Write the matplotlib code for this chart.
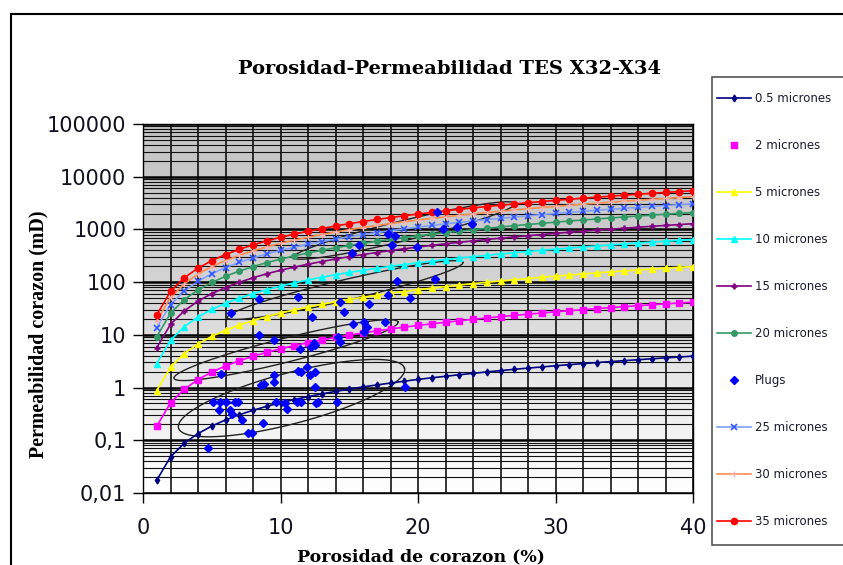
import numpy as np
import matplotlib.pyplot as plt
from matplotlib.lines import Line2D
from matplotlib.patches import Rectangle
from matplotlib.colors import LinearSegmentedColormap
from matplotlib.ticker import MultipleLocator, LogLocator, NullFormatter

# porosity (%) of the pore-throat curves
phi = list(range(1, 41))

k_05 = [0.0175, 0.0484, 0.0879, 0.134, 0.186, 0.243, 0.305, 0.371, 0.441, 0.515,
        0.593, 0.673, 0.758, 0.845, 0.935, 1.03, 1.12, 1.22, 1.32, 1.43,
        1.53, 1.64, 1.75, 1.86, 1.98, 2.10, 2.22, 2.34, 2.46, 2.59,
        2.72, 2.85, 2.98, 3.11, 3.24, 3.38, 3.52, 3.66, 3.80, 3.95]
k_2 = [0.185, 0.512, 0.929, 1.42, 1.97, 2.57, 3.23, 3.92, 4.66, 5.44,
       6.26, 7.12, 8.00, 8.93, 9.88, 10.9, 11.9, 12.9, 14.0, 15.1,
       16.2, 17.3, 18.5, 19.7, 20.9, 22.2, 23.4, 24.7, 26.0, 27.4,
       28.7, 30.1, 31.5, 32.9, 34.3, 35.7, 37.2, 38.7, 40.2, 41.7]
k_5 = [0.879, 2.43, 4.41, 6.73, 9.35, 12.2, 15.3, 18.6, 22.2, 25.9,
       29.8, 33.8, 38.0, 42.4, 47.0, 51.6, 56.4, 61.4, 66.4, 71.6,
       77.0, 82.4, 88.0, 93.6, 99.4, 105, 111, 117, 124, 130,
       136, 143, 150, 156, 163, 170, 177, 184, 191, 198]
k_10 = [2.86, 7.91, 14.3, 21.9, 30.4, 39.7, 49.8, 60.6, 72.0, 84.1,
        96.7, 110, 124, 138, 153, 168, 183, 199, 216, 233,
        250, 268, 286, 304, 323, 342, 362, 382, 402, 422,
        443, 464, 486, 508, 530, 552, 575, 598, 621, 644]
k_15 = [5.69, 15.8, 28.6, 43.6, 60.6, 79.1, 99.3, 121, 144, 168,
        193, 219, 246, 275, 304, 334, 365, 397, 430, 464,
        498, 534, 570, 606, 644, 682, 720, 760, 801, 842,
        883, 925, 968, 1011, 1055, 1100, 1145, 1191, 1237, 1284]
k_20 = [9.28, 25.7, 46.6, 71.1, 98.8, 129, 162, 197, 234, 273,
        314, 357, 402, 448, 496, 545, 596, 648, 702, 757,
        813, 870, 929, 989, 1050, 1112, 1175, 1240, 1306, 1373,
        1441, 1510, 1579, 1650, 1721, 1795, 1868, 1943, 2018, 2094]
k_25 = [13.6, 37.6, 68.2, 104, 144, 189, 237, 288, 342, 400,
        460, 522, 587, 655, 725, 797, 871, 947, 1026, 1106,
        1188, 1272, 1358, 1445, 1535, 1626, 1718, 1813, 1909, 2007,
        2106, 2206, 2308, 2411, 2516, 2623, 2730, 2840, 2950, 3061]
k_30 = [18.5, 51.2, 92.9, 142, 197, 257, 323, 392, 467, 545,
        627, 712, 801, 893, 988, 1087, 1188, 1292, 1398, 1508,
        1620, 1735, 1852, 1970, 2092, 2216, 2342, 2472, 2603, 2736,
        2871, 3008, 3147, 3287, 3430, 3576, 3722, 3872, 4022, 4174]
k_35 = [24.0, 66.5, 121, 184, 256, 334, 419, 510, 606, 708,
        814, 925, 1041, 1161, 1284, 1412, 1544, 1678, 1817, 1960,
        2105, 2254, 2406, 2560, 2719, 2880, 3043, 3212, 3382, 3556,
        3731, 3909, 4089, 4272, 4457, 4647, 4837, 5032, 5226, 5423]

# core plug measurements
plug_phi = [15.2, 15.7, 17.8, 18.3, 18.1, 19.9, 21.4, 21.8, 22.8, 23.9,
            6.4, 8.4, 11.3, 12.3, 14.3, 14.6, 16.4, 17.8, 18.5, 19.4, 21.2,
            8.4, 9.5, 11.4, 12.2, 12.4, 14.2, 14.3, 15.3, 16.1, 16.3, 17.6, 16.1, 12.5,
            5.7, 9.5, 9.5, 8.6, 8.8, 11.3, 11.5, 11.9, 12.15, 12.5, 12.5, 19.05,
            5.1, 5.6, 6.0, 6.7, 6.9, 5.5, 6.3, 6.45, 7.2, 8.7, 7.65, 7.9, 4.75,
            9.7, 10.3, 10.45, 11.2, 11.5, 12.75, 14.1, 12.6]
plug_k = [350, 500, 820, 740, 500, 460, 2100, 1020, 1100, 1290,
          26, 48, 52, 22, 42, 27, 38, 56, 105, 50, 117,
          9.8, 7.9, 5.3, 6.0, 7.0, 9.2, 7.2, 16, 17.5, 14, 17.5, 11.5, 6.4,
          1.8, 1.7, 1.3, 1.1, 1.15, 2.1, 2.0, 2.45, 1.7, 2.0, 1.03, 1.03,
          0.54, 0.54, 0.54, 0.54, 0.54, 0.37, 0.37, 0.32, 0.24, 0.21, 0.135, 0.14, 0.072,
          0.54, 0.50, 0.40, 0.54, 0.54, 0.54, 0.54, 0.50]

y_ticks = [0.01, 0.1, 1, 10, 100, 1000, 10000, 100000]
y_tick_labels = ['0,01', '0,1', '1', '10', '100', '1000', '10000', '100000']
x_ticks = [0, 10, 20, 30, 40]

W, H = 843, 565
fig = plt.figure(figsize=(W / 100, H / 100), dpi=100)
fig.patch.set_facecolor('white')
fig.add_artist(Rectangle((11 / W, -0.1), 1.2, 1 - 14 / H + 0.1, transform=fig.transFigure,
                         fill=False, edgecolor='black', lw=1.5))

ax = fig.add_axes([143 / W, 1 - 493 / H, 550 / W, 369 / H])
ax.set_yscale('log')
ax.set_xlim(0, 40)
ax.set_ylim(0.01, 100000)

# grey fading to white toward the bottom
fade = LinearSegmentedColormap.from_list('fade', ['#ffffff', '#e6e6e6', '#cdcdcd', '#c4c4c4'])
grad = np.linspace(0, 1, 256).reshape(-1, 1)
ax.imshow(grad, extent=[0, 1, 0, 1], transform=ax.transAxes, aspect='auto',
          cmap=fade, origin='lower', zorder=0)

ax.xaxis.set_major_locator(MultipleLocator(10))
ax.xaxis.set_minor_locator(MultipleLocator(2))
ax.yaxis.set_minor_locator(LogLocator(base=10, subs=np.arange(2, 10), numticks=20))
ax.yaxis.set_minor_formatter(NullFormatter())
ax.set_axisbelow(True)
ax.grid(True, axis='x', which='both', color='black', lw=1.1)
ax.grid(True, axis='y', which='major', color='black', lw=1.8)
ax.grid(True, axis='y', which='minor', color='#111111', lw=0.8)

ax.set_xticks(x_ticks)
ax.set_yticks(y_ticks)
ax.set_yticklabels(y_tick_labels)
ax.tick_params(which='major', direction='out', length=7, width=1,
               labelsize=15, labelcolor='#111122')
ax.tick_params(axis='y', pad=5)
ax.tick_params(axis='x', pad=11)
ax.tick_params(which='minor', length=0)
for s in ax.spines.values():
    s.set_color('black')
    s.set_linewidth(1)

# envelopes around the plug clusters, drawn in screen-proportional space
kx = (369 / 7) / (550 / 40)
envelopes = [(10.8, -0.20, 8.5, 1.85, 14.8),
             (10.4, 0.71, 8.4, 0.87, 14.1),
             (14.7, 1.85, 8.8, 0.75, 13.2),
             (19.0, 2.98, 8.3, 0.73, 13.7)]
t = np.linspace(0, 2 * np.pi, 200)
for cx, cl, a, b, ang in envelopes:
    th = np.radians(ang)
    ex = cx + a * np.cos(t) * np.cos(th) - b * np.sin(t) * np.sin(th)
    ev = cl * kx + a * np.cos(t) * np.sin(th) + b * np.sin(t) * np.cos(th)
    ax.plot(ex, 10 ** (ev / kx), color='#222222', lw=1.0, zorder=3)

l05, = ax.plot(phi, k_05, color='#000080', lw=1.2, marker='d', ms=3.5, zorder=4)
ax.plot(phi, k_2, color='#ff00ff', lw=1.2, marker='s', ms=5, zorder=4)
l5, = ax.plot(phi, k_5, color='#ffff00', lw=1.2, marker='^', ms=5, zorder=4)
l10, = ax.plot(phi, k_10, color='#00ffff', lw=1.2, marker='^', ms=5, zorder=4)
l15, = ax.plot(phi, k_15, color='#800080', lw=1.2, marker='+', ms=5, mew=1.8, zorder=4)
l20, = ax.plot(phi, k_20, color='#339966', lw=1.2, marker='o', ms=4, zorder=4)
lpl, = ax.plot(plug_phi, plug_k, color='#0000ff', ls='none', marker='D', ms=4.5, zorder=5)
l25, = ax.plot(phi, k_25, color='#7fa0ff', lw=1.2, marker='x', ms=4.5, mew=1.2,
               mec='#3355ff', zorder=4)
l30, = ax.plot(phi, k_30, color='#ff8c50', lw=1.2, marker='+', ms=4, mew=1,
               mec='#ffb0b0', zorder=4)
l35, = ax.plot(phi, k_35, color='#ff0000', lw=1.2, marker='o', ms=4.5, zorder=4)
h2 = Line2D([], [], color='#ff00ff', ls='none', marker='s', ms=5)

# legend box runs off the right edge
fig.add_artist(Rectangle((712 / W, 1 - 545 / H), 150 / W, 468 / H, transform=fig.transFigure,
                         facecolor='white', edgecolor='#555555', lw=1.2, zorder=2))

handles = [l05, h2, l5, l10, l15, l20, lpl, l25, l30, l35]
labels = ['0.5 micrones', '2 micrones', '5 micrones', '10 micrones', '15 micrones',
          '20 micrones', 'Plugs', '25 micrones', '30 micrones', '35 micrones']
leg = fig.legend(handles, labels, loc='upper left', bbox_to_anchor=(717 / W, 1 - 92 / H),
                 frameon=False, labelspacing=2.88, handlelength=2.9, handletextpad=0.35,
                 borderpad=0, borderaxespad=0, prop={'family': 'DejaVu Sans', 'size': 8.5})
leg.set_zorder(3)
for txt in leg.get_texts():
    txt.set_color('#1a1a33')

fig.text(450 / W, 1 - 69 / H, 'Porosidad-Permeabilidad TES X32-X34', ha='center', va='center',
         family='DejaVu Serif', weight='bold', size=14)
fig.text(421 / W, 1 - 557 / H, 'Porosidad de corazon (%)', ha='center', va='center',
         family='DejaVu Serif', weight='bold', size=12.5)
fig.text(38 / W, 1 - 334 / H, 'Permeabilidad corazon (mD)', ha='center', va='center',
         rotation=90, family='Liberation Serif', weight='bold', size=14.4)

fig.savefig('out.png', dpi=100)
